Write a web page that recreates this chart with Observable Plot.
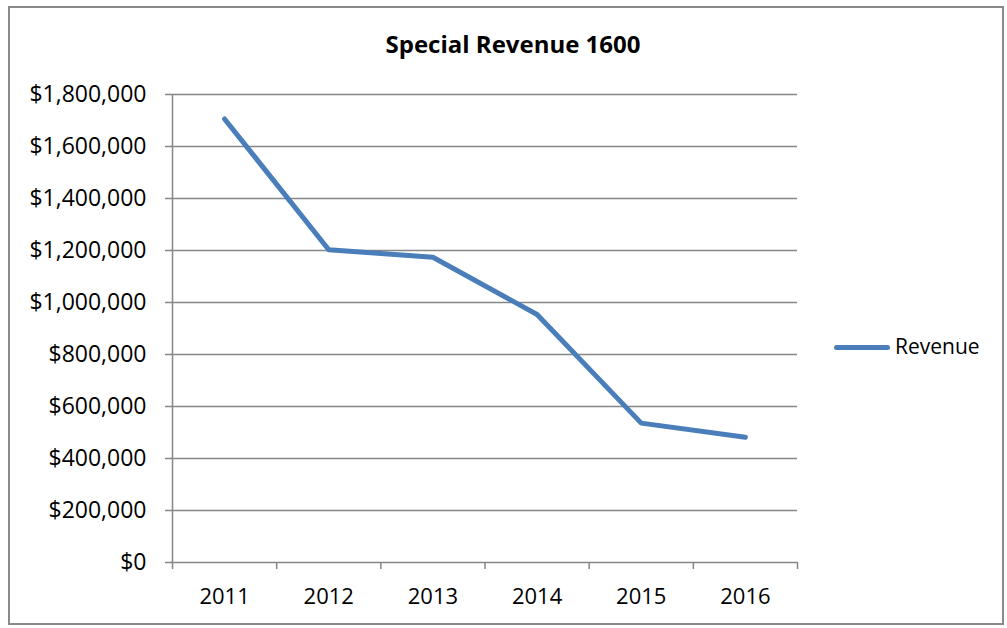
<!DOCTYPE html>
<html>
<head>
<meta charset="utf-8">
<script src="https://cdn.jsdelivr.net/npm/d3@7"></script>
<script src="https://cdn.jsdelivr.net/npm/@observablehq/plot@0.6"></script>
<style>
  html, body { margin: 0; padding: 0; background: #fff; }
  #wrap { position: relative; width: 1007px; height: 628px; overflow: hidden; background: #fff; font-family: "Open Sans", sans-serif; }
  #frame { position: absolute; left: 8px; top: 6px; width: 996px; height: 619px; border: 2px solid #8a8a8a; box-sizing: border-box; }
  #chart { position: absolute; left: 0; top: 0; }
  #title { position: absolute; left: 513px; top: 32px; transform: translateX(-50%); font-size: 24px; line-height: 24px; font-weight: bold; white-space: nowrap; color: #000; }
  #legend { position: absolute; left: 834px; top: 336px; height: 21px; display: flex; align-items: center; }
  #legend .swatch { width: 56px; height: 5px; border-radius: 2.5px; background: #4A7EBB; margin-right: 5px; margin-top: 1px; }
  #legend .label { font-size: 21px; line-height: 21px; color: #000; }
</style>
</head>
<body>
<div id="wrap">
  <div id="frame"></div>
  <div id="chart"></div>
  <div id="title">Special Revenue 1600</div>
  <div id="legend"><div class="swatch"></div><div class="label">Revenue</div></div>
</div>
<script>
const years = ["2011", "2012", "2013", "2014", "2015", "2016"];
const revenue = [1706000, 1203000, 1174000, 954000, 536000, 482000];
const yTicks = [0, 200000, 400000, 600000, 800000, 1000000, 1200000, 1400000, 1600000, 1800000];
const seriesName = "Revenue";

const data = years.map((year, i) => ({year, pos: i + 0.5, value: revenue[i], series: seriesName}));
const boundaries = d3.range(years.length + 1);
const centers = years.map((_, i) => i + 0.5);
const money = d => "$" + d3.format(",")(d);
const gray = "#868686";

const chart = Plot.plot({
  width: 1007,
  height: 628,
  marginLeft: 172,
  marginRight: 210,
  marginTop: 94,
  marginBottom: 66,
  x: {type: "linear", domain: [0, years.length]},
  y: {domain: [0, 1800000]},
  style: {fontFamily: "'Open Sans', sans-serif", fontSize: "22px", color: "#000", background: "transparent"},
  marks: [
    Plot.gridY(yTicks, {stroke: gray, strokeOpacity: 1, strokeWidth: 1.5}),
    Plot.axisY(yTicks, {tickSize: 7, tickPadding: 19, tickFormat: money, stroke: gray, strokeWidth: 1.5, fill: "#000", label: null, fontSize: 23}),
    Plot.ruleX([0], {stroke: gray, strokeWidth: 1.5}),
    Plot.axisX(boundaries, {tickSize: 7, tickFormat: () => "", stroke: gray, strokeWidth: 1.5, label: null}),
    Plot.axisX(centers, {tickSize: 0, tickPadding: 26, tickFormat: d => years[Math.floor(d)], fill: "#000", label: null, fontSize: 22}),
    Plot.line(data, {x: "pos", y: "value", stroke: "#4A7EBB", strokeWidth: 5, strokeLinecap: "round", strokeLinejoin: "round"})
  ]
});
document.getElementById("chart").appendChild(chart);
</script>
</body>
</html>
